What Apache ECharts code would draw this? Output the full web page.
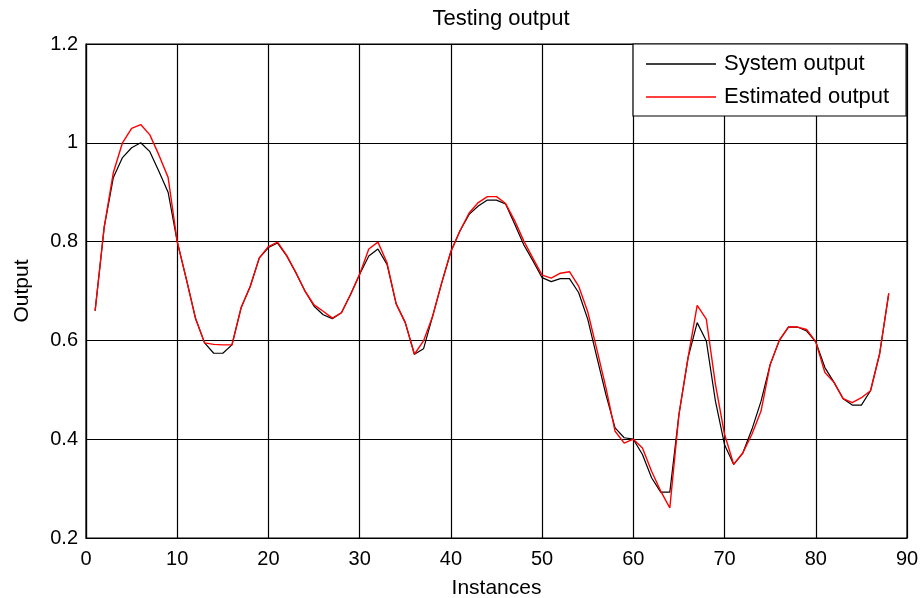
<!DOCTYPE html>
<html>
<head>
<meta charset="utf-8">
<script src="https://cdn.jsdelivr.net/npm/echarts@6/dist/echarts.min.js"></script>
<style>html,body{margin:0;padding:0;background:#fff}#c{width:923px;height:598px}</style>
</head>
<body>
<div id="c"></div>
<script>
const instances = [1,2,3,4,5,6,7,8,9,10,11,12,13,14,15,16,17,18,19,20,21,22,23,24,25,26,27,28,29,30,31,32,33,34,35,36,37,38,39,40,41,42,43,44,45,46,47,48,49,50,51,52,53,54,55,56,57,58,59,60,61,62,63,64,65,66,67,68,69,70,71,72,73,74,75,76,77,78,79,80,81,82,83,84,85,86,87,88];
const systemOutput = [0.66,0.83,0.93,0.97,0.99,1.00,0.982,0.942,0.90,0.80,0.724,0.645,0.595,0.574,0.574,0.591,0.666,0.709,0.767,0.788,0.797,0.771,0.737,0.70,0.669,0.652,0.644,0.656,0.693,0.734,0.771,0.785,0.754,0.674,0.636,0.572,0.583,0.649,0.717,0.78,0.822,0.855,0.872,0.884,0.884,0.876,0.835,0.793,0.761,0.727,0.719,0.725,0.725,0.697,0.643,0.566,0.49,0.423,0.403,0.40,0.369,0.322,0.293,0.293,0.45,0.565,0.636,0.599,0.477,0.389,0.349,0.372,0.42,0.477,0.551,0.60,0.627,0.627,0.619,0.597,0.545,0.515,0.482,0.469,0.469,0.498,0.573,0.695];
const estimatedOutput = [0.66,0.83,0.94,1.00,1.029,1.037,1.016,0.975,0.93,0.80,0.724,0.645,0.595,0.592,0.591,0.591,0.666,0.709,0.767,0.79,0.799,0.772,0.738,0.70,0.672,0.659,0.645,0.656,0.693,0.734,0.785,0.799,0.757,0.674,0.636,0.572,0.599,0.649,0.717,0.78,0.822,0.858,0.879,0.891,0.891,0.877,0.842,0.801,0.766,0.732,0.726,0.736,0.739,0.71,0.658,0.582,0.504,0.416,0.392,0.40,0.382,0.335,0.295,0.261,0.45,0.565,0.671,0.643,0.511,0.41,0.349,0.372,0.41,0.457,0.551,0.60,0.627,0.627,0.622,0.597,0.535,0.515,0.482,0.474,0.484,0.498,0.573,0.695];
const seriesNames = ['System output', 'Estimated output'];
const titleText = 'Testing output';
const xName = 'Instances';
const yName = 'Output';

const font = 'Liberation Sans, Arial, sans-serif';
const chart = echarts.init(document.getElementById('c'), null, {renderer: 'canvas'});
chart.setOption({
  animation: false,
  backgroundColor: '#fff',
  title: {
    text: titleText, left: 496, top: 3, textAlign: 'center',
    textStyle: {fontFamily: font, fontSize: 22, fontWeight: 'normal', color: '#000'}
  },
  grid: {left: 86, right: 16, top: 44, bottom: 60, show: true, borderColor: '#000', borderWidth: 1.2,
    backgroundColor: 'transparent', containLabel: false, outerBoundsMode: 'none'},
  legend: {
    orient: 'vertical', left: 633, top: 44,
    backgroundColor: '#fff', borderColor: '#000', borderWidth: 1.2, borderRadius: 0,
    padding: [9, 17, 8, 13], itemGap: 11, itemWidth: 70, itemHeight: 1.5,
    icon: 'rect',
    textStyle: {fontFamily: font, fontSize: 22, lineHeight: 22, color: '#000', padding: [0, 0, 0, 3]},
    data: seriesNames
  },
  xAxis: {
    type: 'value', min: 0, max: 90, interval: 10,
    name: xName, nameLocation: 'middle', nameGap: 40,
    nameTextStyle: {fontFamily: font, fontSize: 21, color: '#000'},
    axisLine: {show: true, lineStyle: {color: '#000', width: 1.2}},
    axisTick: {show: false},
    axisLabel: {fontFamily: font, fontSize: 20, color: '#000', margin: 11},
    splitLine: {show: true, lineStyle: {color: '#000', width: 1.2}}
  },
  yAxis: {
    type: 'value', min: 0.2, max: 1.2, interval: 0.2,
    name: yName, nameLocation: 'middle', nameGap: 53, nameRotate: 90,
    nameTextStyle: {fontFamily: font, fontSize: 21, color: '#000'},
    axisLine: {show: true, lineStyle: {color: '#000', width: 1.2}},
    axisTick: {show: false},
    axisLabel: {fontFamily: font, fontSize: 20, color: '#000', margin: 8,
      formatter: v => String(Math.round(v * 10) / 10)},
    splitLine: {show: true, lineStyle: {color: '#000', width: 1.2}}
  },
  series: [
    {name: seriesNames[0], type: 'line', symbol: 'none', color: '#000',
     lineStyle: {color: '#000', width: 1.2},
     data: instances.map((x, i) => [x, systemOutput[i]])},
    {name: seriesNames[1], type: 'line', symbol: 'none', color: '#ff0000',
     lineStyle: {color: '#ff0000', width: 1.4},
     data: instances.map((x, i) => [x, estimatedOutput[i]])}
  ]
});
</script>
</body>
</html>
